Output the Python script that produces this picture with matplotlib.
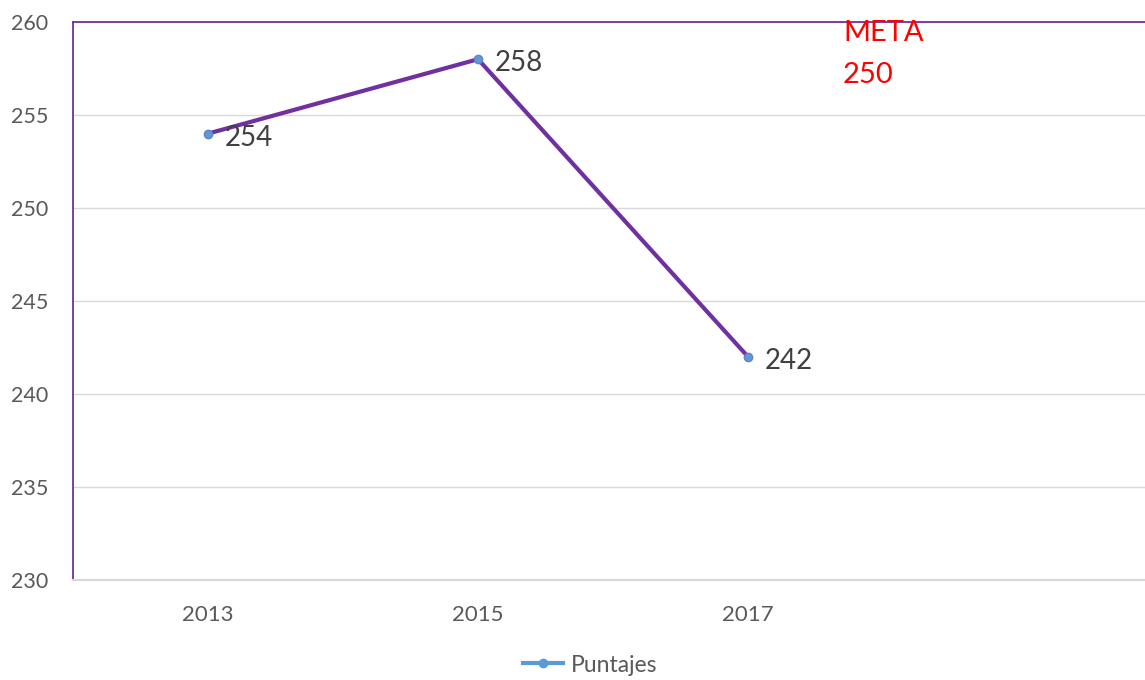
import matplotlib
matplotlib.use("Agg")
import matplotlib.pyplot as plt
from matplotlib.lines import Line2D

years = ["2013", "2015", "2017"]
puntajes = [254, 258, 242]
series_name = "Puntajes"
meta_label = "META"
meta_value = "250"

plt.rcParams['font.family'] = ['Lato', 'DejaVu Sans']

fig = plt.figure(figsize=(11.45, 6.8), dpi=100)
ax = fig.add_axes([73/1145, 1-580/680, 1-73/1145, 558/680])

x = list(range(len(years)))
ax.plot(x, puntajes, color='#7030A0', linewidth=3, zorder=3)
ax.plot(x, puntajes, linestyle='none', marker='o', markersize=6,
        markerfacecolor='#5B9BD5', markeredgecolor='#6A7FCB', zorder=4)

for xi, v in zip(x, puntajes):
    ax.annotate(str(v), (xi, v), xytext=(12, -3),
                textcoords='offset points', ha='left', va='center',
                fontsize=20, color='#404040')

ax.set_xlim(-0.5, 3.47)
ax.set_ylim(230, 260)
ax.set_yticks([230, 235, 240, 245, 250, 255, 260])
ax.set_xticks(x)
ax.set_xticklabels(years)
ax.tick_params(axis='y', length=0, labelsize=15.5, labelcolor='#595959', pad=18)
ax.tick_params(axis='x', length=0, labelsize=16, labelcolor='#595959', pad=18)

ax.grid(axis='y', color='#D9D9D9', linewidth=1)
ax.set_axisbelow(True)
for s in ['left', 'top']:
    ax.spines[s].set_color('#7030A0')
    ax.spines[s].set_linewidth(1.3)
ax.spines['bottom'].set_color('#D9D9D9')
ax.spines['bottom'].set_linewidth(1.5)
ax.spines['right'].set_visible(False)

ax.text((843-73)/1072, (580-33)/558, meta_label, transform=ax.transAxes,
        ha='left', va='center', fontsize=21, color='#FF0000')
ax.text((843-73)/1072, (580-75)/558, meta_value, transform=ax.transAxes,
        ha='left', va='center', fontsize=21, color='#FF0000')

handle = Line2D([], [], color='#5B9BD5', linewidth=3, marker='o',
                markersize=6, markerfacecolor='#5B9BD5')
fig.legend([handle], [series_name], loc='center', bbox_to_anchor=(590/1145, 1-665/680),
           frameon=False, fontsize=16.5, labelcolor='#595959', handlelength=1.75,
           handletextpad=0.35)

fig.savefig("out.png", dpi=100)
